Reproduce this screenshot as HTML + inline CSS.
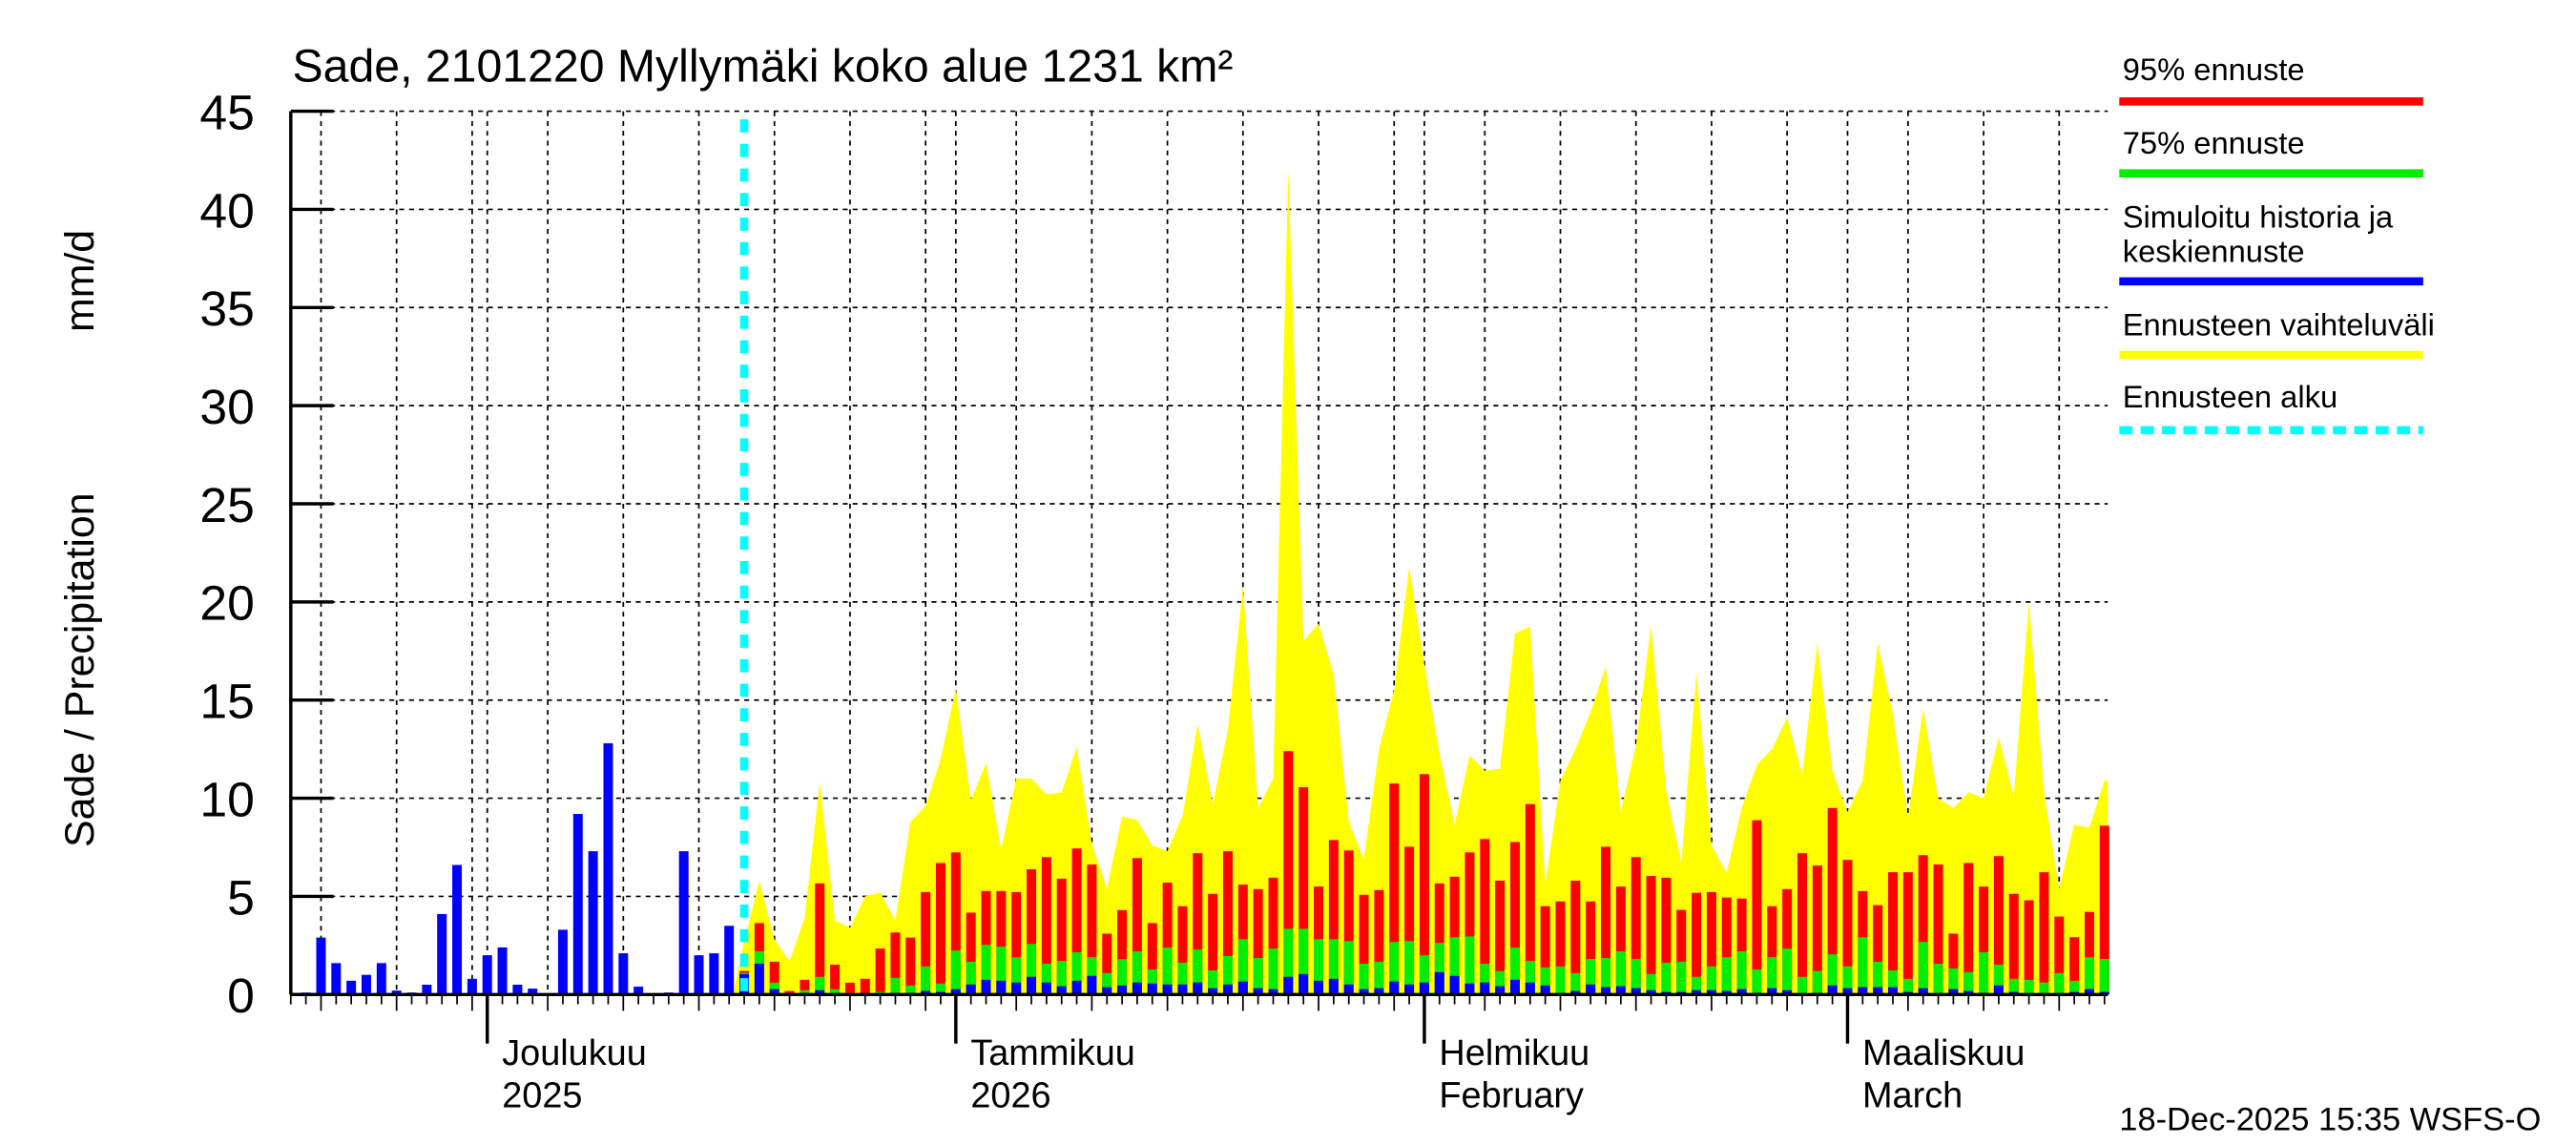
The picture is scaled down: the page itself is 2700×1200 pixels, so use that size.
<!DOCTYPE html>
<html><head><meta charset="utf-8"><style>
html,body{margin:0;padding:0;background:#fff;}
svg{display:block;font-family:"Liberation Sans",Arial,sans-serif;}
</style></head><body>
<svg id="chart" width="2700" height="1200" viewBox="0 0 1568 700" preserveAspectRatio="none" xmlns="http://www.w3.org/2000/svg">
<rect width="1568" height="700" fill="#fff"/>
<g id="grid"></g>
<g id="yellow"></g>
<g id="bars"></g>
<g id="axes"></g>
<line x1="453" y1="73" x2="453" y2="608" stroke="#00ffff" stroke-width="5" stroke-dasharray="8,7"/>
<text x="178" y="50" font-size="28">Sade, 2101220 Myllymäki koko alue 1231 km²</text>
<text transform="translate(57,518) rotate(-90)" font-size="25">Sade / Precipitation</text>
<text transform="translate(57,203) rotate(-90)" font-size="25">mm/d</text>
<g font-size="19">
<text x="1292" y="49">95% ennuste</text>
<line x1="1290" y1="62" x2="1475" y2="62" stroke="#ff0000" stroke-width="5"/>
<text x="1292" y="94">75% ennuste</text>
<line x1="1290" y1="106" x2="1475" y2="106" stroke="#00ee00" stroke-width="5"/>
<text x="1292" y="139">Simuloitu historia ja</text>
<text x="1292" y="160">keskiennuste</text>
<line x1="1290" y1="172" x2="1475" y2="172" stroke="#0000ff" stroke-width="5"/>
<text x="1292" y="205">Ennusteen vaihteluväli</text>
<line x1="1290" y1="217" x2="1475" y2="217" stroke="#ffff00" stroke-width="5"/>
<text x="1292" y="249">Ennusteen alku</text>
<line x1="1290" y1="263" x2="1475" y2="263" stroke="#00ffff" stroke-width="5" stroke-dasharray="8,5"/>
</g>
<text x="1290" y="691" font-size="20">18-Dec-2025 15:35 WSFS-O</text>
</svg>
<script>
const yTicks=[0,5,10,15,20,25,30,35,40,45];
const monthLabels=[["Joulukuu","2025"],["Tammikuu","2026"],["Helmikuu","February"],["Maaliskuu","March"]];
const monthStartDays=[13,44,75,103];
const history=[0.1,2.9,1.6,0.7,1.0,1.6,0.2,0.1,0.5,4.1,6.6,0.8,2.0,2.4,0.5,0.3,0,3.3,9.2,7.3,12.8,2.1,0.4,0,0.1,7.3,2.0,2.1,3.5];
const fcBlue=[1.04,1.57,0.27,0,0.08,0.22,0,0,0,0,0.08,0.08,0.18,0.13,0.27,0.51,0.75,0.7,0.61,0.9,0.61,0.42,0.7,0.95,0.37,0.46,0.61,0.56,0.51,0.51,0.61,0.32,0.51,0.66,0.32,0.27,0.9,1.04,0.7,0.8,0.51,0.27,0.32,0.66,0.51,0.61,1.14,0.95,0.56,0.61,0.42,0.75,0.61,0.46,0.08,0.18,0.51,0.37,0.42,0.32,0.22,0.13,0.13,0.22,0.22,0.18,0.27,0.08,0.32,0.22,0.03,0.08,0.46,0.32,0.37,0.37,0.37,0.13,0.32,0.03,0.27,0.18,0.08,0.46,0.13,0,0,0.03,0.13,0.27,0.13];
const fcGreen=[1.1,2.2,0.6,0,0.22,0.9,0.27,0.08,0,0.13,0.85,0.46,1.43,0.56,2.24,1.67,2.53,2.44,1.9,2.58,1.57,1.71,2.15,1.9,1.09,1.8,2.2,1.28,2.39,1.62,2.29,1.23,1.96,2.82,1.86,2.34,3.35,3.35,2.82,2.82,2.72,1.57,1.67,2.68,2.72,2.0,2.63,2.92,2.96,1.57,1.19,2.39,1.71,1.38,1.43,1.09,1.81,1.86,2.2,1.81,1.04,1.62,1.67,0.9,1.43,1.9,2.2,1.28,1.9,2.34,0.9,1.19,2.05,1.43,2.92,1.67,1.23,0.8,2.68,1.57,1.33,1.14,2.15,1.52,0.8,0.75,0.61,1.09,0.7,1.9,1.81];
const fcRed=[1.2,3.64,1.67,0.18,0.75,5.66,1.52,0.6,0.8,2.34,3.16,2.9,5.22,6.7,7.24,4.17,5.27,5.27,5.22,6.38,7.0,5.9,7.44,6.62,3.1,4.3,6.95,3.64,5.7,4.5,7.2,5.13,7.3,5.6,5.37,5.95,12.4,10.56,5.5,7.87,7.34,5.08,5.32,10.75,7.53,11.23,5.66,6.0,7.24,7.92,5.8,7.77,9.7,4.5,4.74,5.8,4.74,7.53,5.5,7.0,6.04,5.95,4.31,5.18,5.22,4.94,4.89,8.88,4.5,5.37,7.2,6.57,9.5,6.86,5.27,4.55,6.23,6.23,7.1,6.62,3.1,6.7,5.5,7.05,5.13,4.8,6.23,3.97,2.92,4.21,8.6];
const fcRange=[2.7,5.8,2.8,1.7,3.9,10.85,3.77,3.4,5.0,5.2,3.77,8.8,9.6,12,15.6,9.9,11.8,7.4,11,11,10.2,10.3,12.6,7.7,5.4,9.05,8.9,7.6,7.3,9.1,13.8,9.7,13.5,20.8,9.5,11,42,18,18.9,16.3,8.8,6.9,12.5,15.5,21.8,16.8,12.3,8.65,12.2,11.4,11.5,18.4,18.75,5.6,10.9,12.5,14.4,16.7,9.3,12.7,18.8,10.4,6.7,16.4,7.6,6.2,9.5,11.7,12.5,14.1,11.2,17.9,11.4,9.3,10.9,17.9,14.3,9.0,14.6,10.0,9.5,10.3,10.0,13.1,10.1,20,10.3,5.4,8.65,8.5,10.9];
const NS='http://www.w3.org/2000/svg';
const X0=177,DAY=9.2,Y0=608,PX=12,XMAX=1283,FC0=29;
function xDay(d){return X0+d*DAY;}
function xBar(i){return xDay(i+1);}
function yV(v){return Y0-v*PX;}
function mk(tag,attrs,parent){const e=document.createElementNS(NS,tag);for(const k in attrs)e.setAttribute(k,attrs[k]);parent.appendChild(e);return e;}
const grid=document.getElementById('grid'),axes=document.getElementById('axes'),bars=document.getElementById('bars'),yel=document.getElementById('yellow');
yTicks.forEach(t=>{
  if(t>0){const g=mk('line',{x1:X0,y1:yV(t),x2:XMAX,y2:yV(t),stroke:'#000','stroke-width':1,'stroke-dasharray':'3,3'},grid);
  
  }
  const tk=mk('line',{x1:X0,y1:yV(t),x2:X0+26,y2:yV(t),stroke:'#000','stroke-width':2},axes);
  
  
  const tl=mk('text',{x:155,y:yV(t)+11,'text-anchor':'end','font-size':30},axes);
  tl.textContent=t;
  
  
});
for(let d=0;d<=120;d++){
  const dt=new Date(2025,10,18+d);const dm=dt.getDate();
  const x=xDay(d);
  if(dm===1||dm%5===0){
    const g=mk('line',{x1:x,y1:68,x2:x,y2:Y0,stroke:'#000','stroke-width':1,'stroke-dasharray':'3,3'},grid);
    
    
  }
  const t=mk('line',{x1:x,y1:Y0,x2:x,y2:Y0+(dm===1?30:(dm%5===0?10:6)),stroke:'#000','stroke-width':dm===1?2:1},axes);
  
  
}
monthStartDays.forEach((d,i)=>{
  const x=xDay(d)+9;
  const t1=mk('text',{x:x,y:651,'font-size':22},axes);t1.textContent=monthLabels[i][0];
  
  
  const t2=mk('text',{x:x,y:677,'font-size':22},axes);t2.textContent=monthLabels[i][1];
  
  
});
const ax=mk('line',{x1:X0,y1:68,x2:X0,y2:Y0,stroke:'#000','stroke-width':2},axes);


const bx=mk('line',{x1:X0,y1:Y0,x2:XMAX,y2:Y0,stroke:'#000','stroke-width':2},axes);


let pts=[[xBar(FC0)-7,Y0]];
fcRange.forEach((v,i)=>{pts.push([xBar(FC0+i),yV(v)]);});
pts.push([Math.min(XMAX,xBar(FC0+fcRange.length-1)+2),yV(fcRange[fcRange.length-1])]);
pts.push([Math.min(XMAX,xBar(FC0+fcRange.length-1)+2),Y0]);
const poly=mk('polygon',{points:pts.map(p=>p.join(',')).join(' '),fill:'#ffff00'},yel);


function bar(i,v,color,name){
  if(v<=0)return;
  const r=mk('rect',{x:xBar(i)-2.9,y:yV(v),width:5.8,height:v*PX,fill:color},bars);
  
  
}
history.forEach((v,i)=>bar(i,v,'#0000ff','history-bar'));
fcRed.forEach((v,i)=>bar(FC0+i,v,'#ff0000','forecast-95-bar'));
fcGreen.forEach((v,i)=>bar(FC0+i,v,'#00ee00','forecast-75-bar'));
fcBlue.forEach((v,i)=>bar(FC0+i,v,'#0000ff','forecast-median-bar'));
</script>
</body></html>
